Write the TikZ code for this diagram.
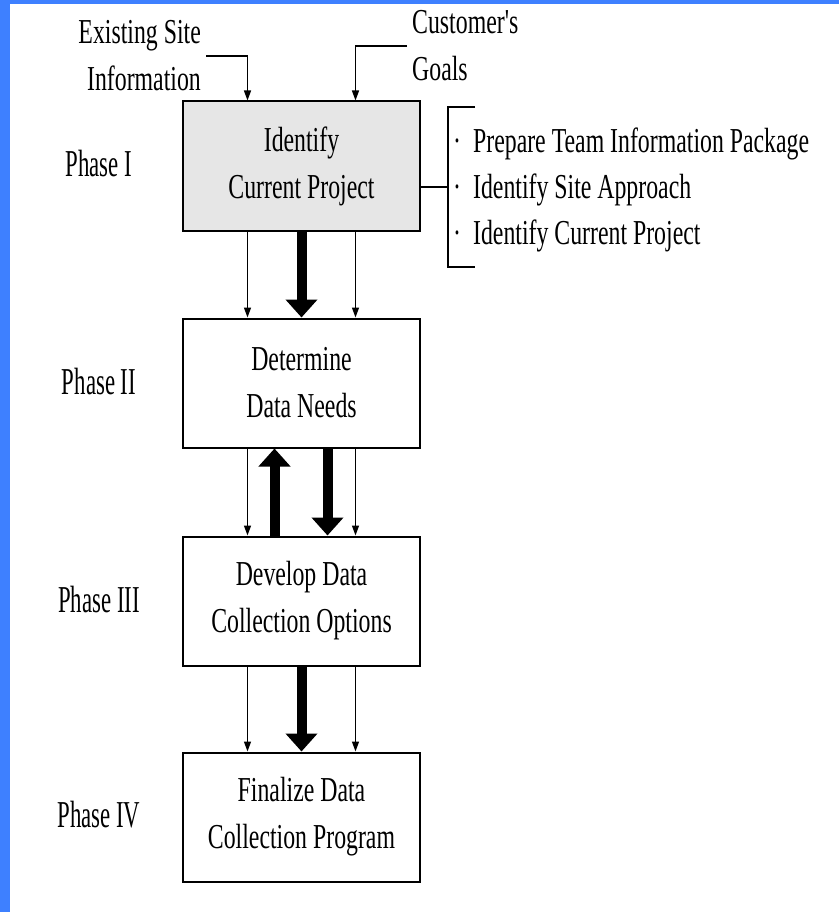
\documentclass[tikz,border=0pt]{standalone}
\usepackage{fontspec}
\setmainfont{Liberation Serif}
\newfontfamily\condfont[FakeStretch=0.68]{Liberation Serif}
\newfontfamily\phasefont[FakeStretch=0.6]{Liberation Serif}
\usetikzlibrary{arrows.meta}
\definecolor{frameblue}{RGB}{62,128,255}
\definecolor{boxgray}{RGB}{230,230,230}

\begin{document}
\begin{tikzpicture}[x=1pt,y=-1pt,
  phasebox/.style={draw,line width=2pt,minimum width=237pt,minimum height=129pt,
    align=center,font=\condfont\fontsize{35}{47}\selectfont},
  phaselabel/.style={inner sep=0pt,font=\phasefont\fontsize{38}{46}\selectfont},
  txt/.style={inner sep=5pt,font=\condfont\fontsize{35}{47}\selectfont},
  thinarrow/.style={line width=1.3pt,-{Triangle[width=7pt,length=10pt]}},
  fatarrow/.style={line width=10pt,-{Triangle[width=31pt,length=18pt]}}]
\useasboundingbox (0,0) rectangle (839,912);
\fill[white] (0,0) rectangle (839,912);
\fill[frameblue] (0,0) rectangle (839,4);
\fill[frameblue] (0,0) rectangle (10,912);

\node[phasebox,fill=boxgray] (identify) at (301.5,166) {Identify\\Current Project};
\node[phasebox] (determine) at (301.5,383) {Determine\\Data Needs};
\node[phasebox] (develop) at (301.5,601) {Develop Data\\Collection Options};
\node[phasebox] (finalize) at (301.5,817) {Finalize Data\\Collection Program};

\node[phaselabel] (phaseI) at (99,164) {Phase I};
\node[phaselabel] (phaseII) at (99,381) {Phase II};
\node[phaselabel] (phaseIII) at (99,599) {Phase III};
\node[phaselabel] (phaseIV) at (99,815) {Phase IV};

\node[txt,anchor=east,align=right] (siteinfo) at (206,56) {Existing Site\\Information};
\node[txt,anchor=west,align=left] (goals) at (407,46) {Customer's\\Goals};
\draw[thinarrow] (siteinfo.east) -| ([xshift=-54]identify.north);
\draw[thinarrow] (goals.west) -| ([xshift=54]identify.north);

\node[txt,anchor=west,align=left,inner sep=0pt,font=\condfont\fontsize{35}{46}\selectfont] (tasks) at (453,190)
  {·\hspace{12pt}Prepare Team Information Package\\·\hspace{12pt}Identify Site Approach\\·\hspace{12pt}Identify Current Project};
\coordinate (brk) at (448,187);
\draw[line width=2pt] (identify.east |- brk) -- (brk);
\draw[line width=2pt] ([shift={(27,-80)}]brk) -- ([shift={(0,-80)}]brk) -- ([shift={(0,80)}]brk) -- ([shift={(27,80)}]brk);

\draw[thinarrow] ([xshift=-54]identify.south) -- ([xshift=-54]determine.north);
\draw[thinarrow] ([xshift=54]identify.south) -- ([xshift=54]determine.north);
\draw[fatarrow] (identify.south) -- (determine.north);

\draw[thinarrow] ([xshift=-54]determine.south) -- ([xshift=-54]develop.north);
\draw[thinarrow] ([xshift=54]determine.south) -- ([xshift=54]develop.north);
\draw[fatarrow] ([xshift=-27]develop.north) -- ([xshift=-27]determine.south);
\draw[fatarrow] ([xshift=26]determine.south) -- ([xshift=26]develop.north);

\draw[thinarrow] ([xshift=-54]develop.south) -- ([xshift=-54]finalize.north);
\draw[thinarrow] ([xshift=54]develop.south) -- ([xshift=54]finalize.north);
\draw[fatarrow] (develop.south) -- (finalize.north);
\end{tikzpicture}
\end{document}
